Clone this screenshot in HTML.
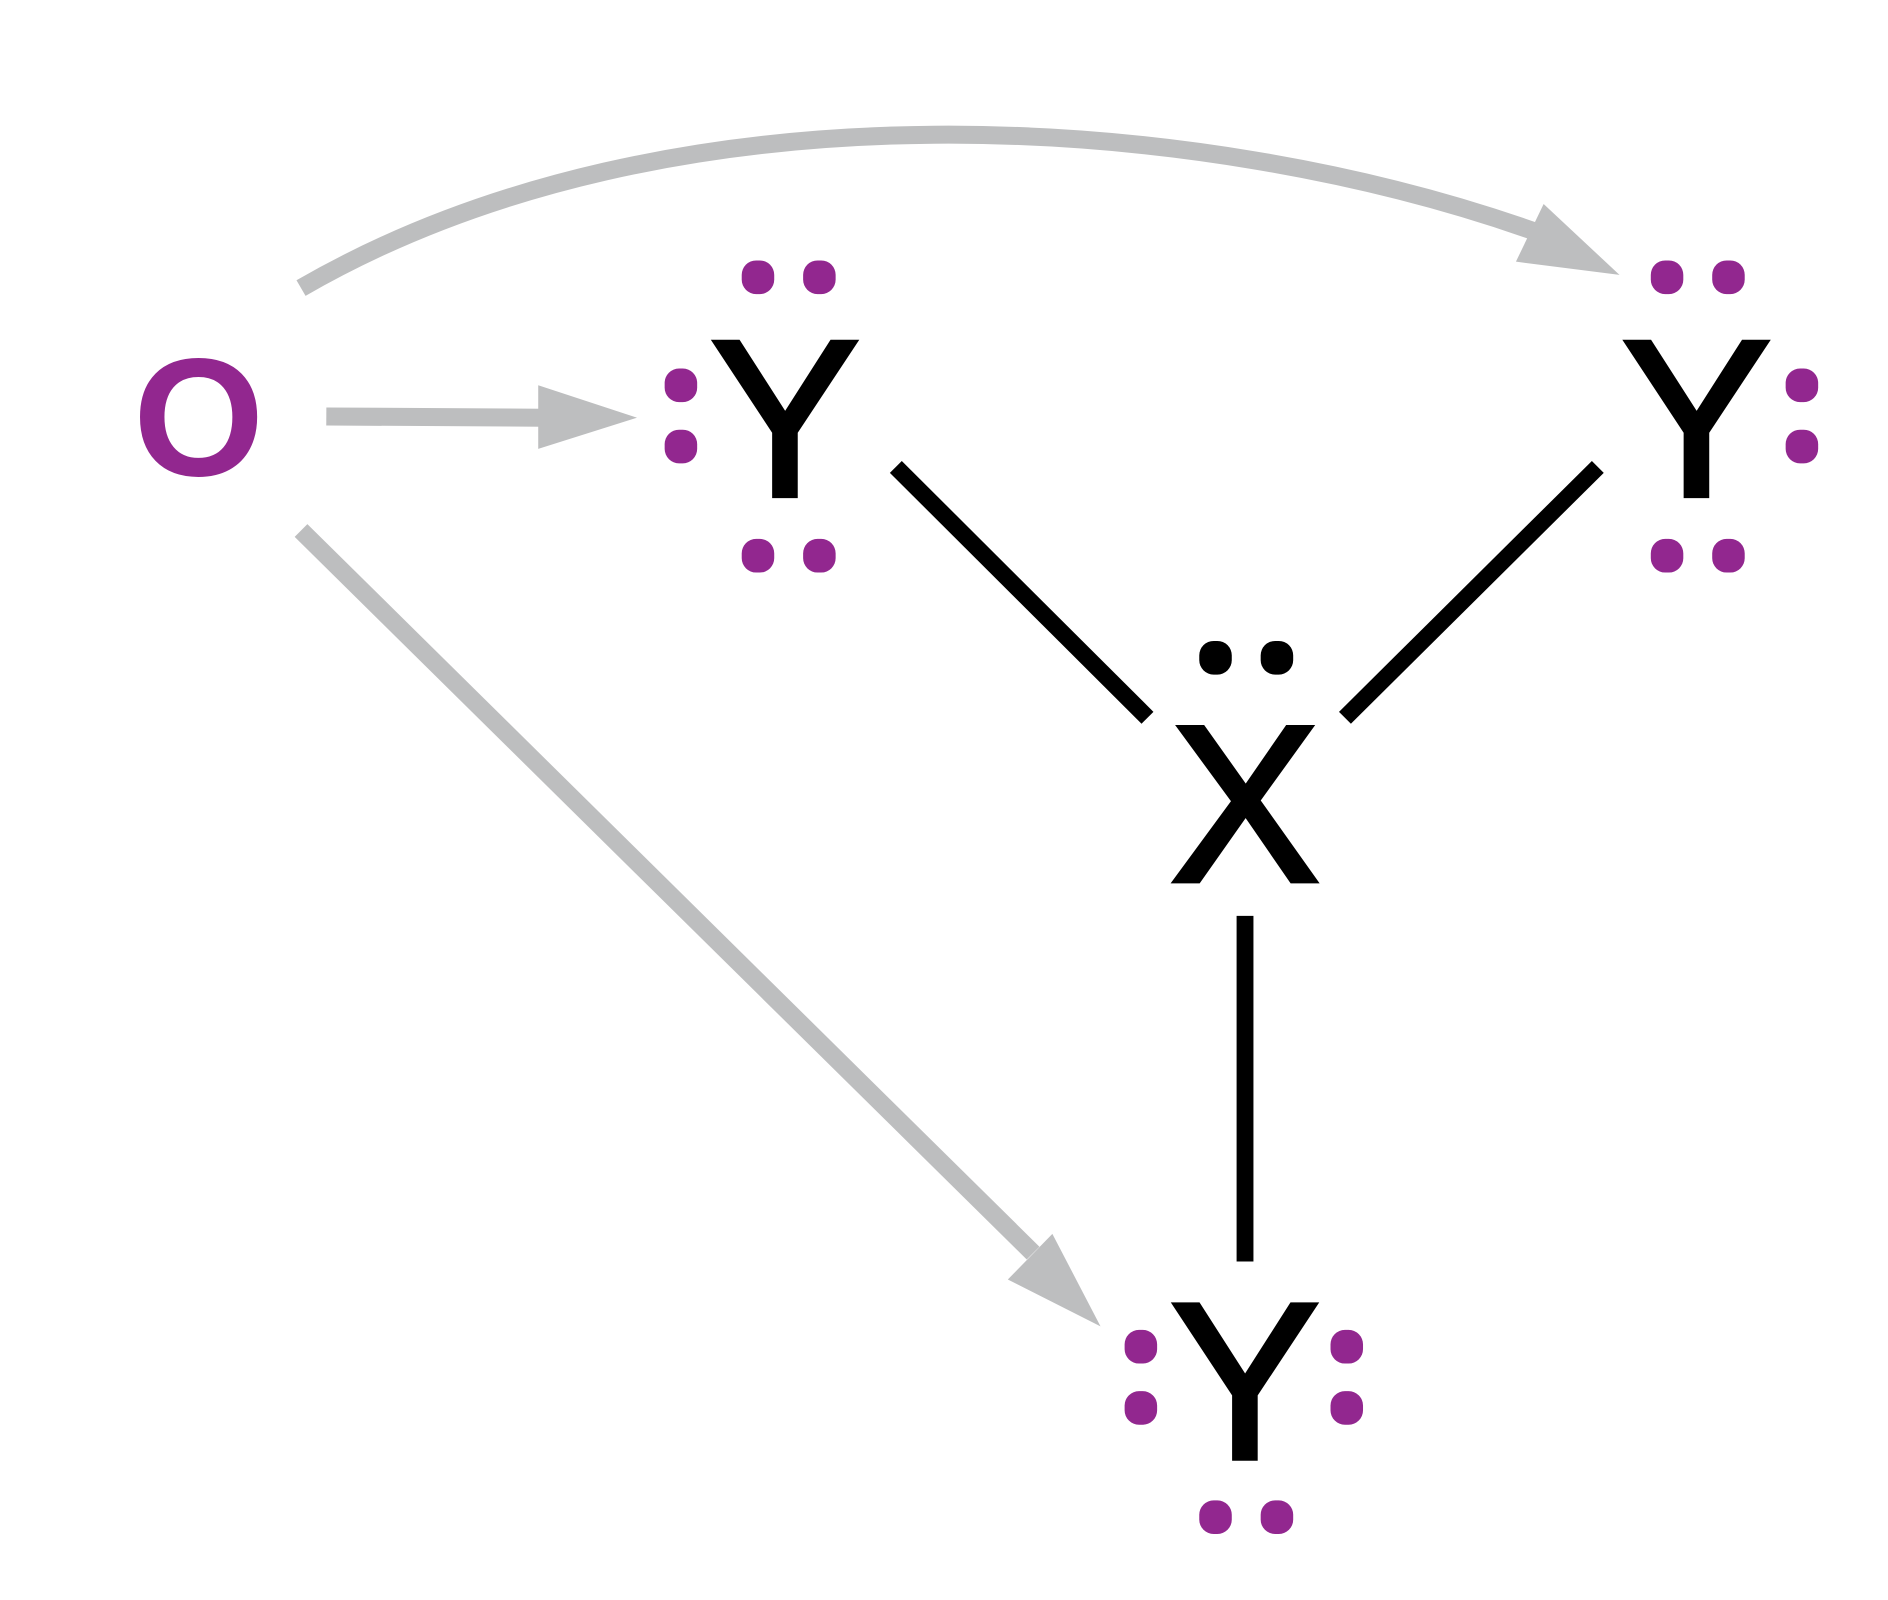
<!DOCTYPE html>
<html><head><meta charset="utf-8"><style>html,body{margin:0;padding:0;background:#fff}svg{display:block}</style></head>
<body>
<svg width="1888" height="1600" viewBox="0 0 1568 1333" preserveAspectRatio="none" xmlns="http://www.w3.org/2000/svg">
<g fill="#bdbebf" stroke="#bdbebf">
<line x1="271" y1="347" x2="450" y2="348" stroke-width="15"/>
<polygon points="447,321 529,348 447,374" stroke="none"/>
<path d="M250,240 C560,60 1000,95 1275,193" fill="none" stroke-width="15"/>
<polygon points="1282,170 1345,229 1259,218" stroke="none"/>
<line x1="250" y1="442" x2="858" y2="1044" stroke-width="15"/>
<polygon points="874,1028 914,1105 837,1066" stroke="none"/>
</g>
<g stroke="#000" stroke-width="14">
<line x1="744" y1="389" x2="953" y2="598"/>
<line x1="1327" y1="389" x2="1117" y2="598"/>
<line x1="1034" y1="763" x2="1034" y2="1051"/>
</g>
<g font-family="Liberation Sans, sans-serif" text-anchor="middle" stroke="#000" stroke-width="4">
<text x="652" y="413" font-size="186">Y</text>
<text x="1409" y="413" font-size="186">Y</text>
<text x="1034" y="734" font-size="186">X</text>
<text x="1034" y="1215" font-size="186">Y</text>
</g>
<text x="165" y="396" font-family="Liberation Sans, sans-serif" text-anchor="middle" font-size="140" font-weight="bold" fill="#92278f">O</text>
<g fill="#92278f">
<rect x="616" y="217" width="27" height="28" rx="12"/><rect x="667" y="217" width="27" height="28" rx="12"/>
<rect x="616" y="449" width="27" height="28" rx="12"/><rect x="667" y="449" width="27" height="28" rx="12"/>
<rect x="552" y="307" width="27" height="28" rx="12"/><rect x="552" y="358" width="27" height="28" rx="12"/>
<rect x="1371" y="217" width="27" height="28" rx="12"/><rect x="1422" y="217" width="27" height="28" rx="12"/>
<rect x="1371" y="449" width="27" height="28" rx="12"/><rect x="1422" y="449" width="27" height="28" rx="12"/>
<rect x="1483" y="307" width="27" height="28" rx="12"/><rect x="1483" y="358" width="27" height="28" rx="12"/>
<rect x="934" y="1108" width="27" height="28" rx="12"/><rect x="934" y="1159" width="27" height="28" rx="12"/>
<rect x="1105" y="1108" width="27" height="28" rx="12"/><rect x="1105" y="1159" width="27" height="28" rx="12"/>
<rect x="996" y="1250" width="27" height="28" rx="12"/><rect x="1047" y="1250" width="27" height="28" rx="12"/>
</g>
<g fill="#000">
<rect x="996" y="534" width="27" height="28" rx="12"/><rect x="1047" y="534" width="27" height="28" rx="12"/>
</g>
</svg>
</body></html>
